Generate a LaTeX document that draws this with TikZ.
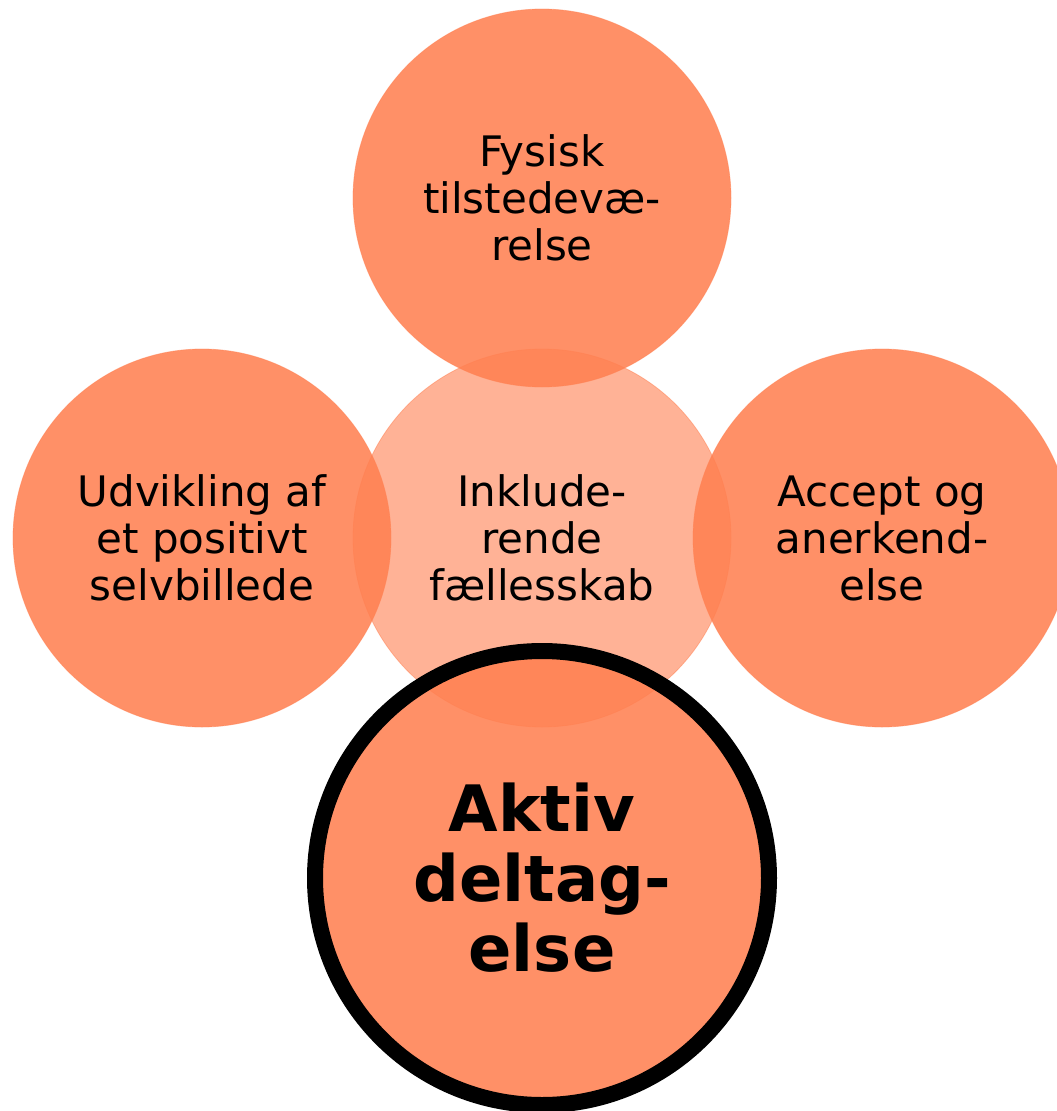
\documentclass[tikz,border=0pt]{standalone}
\usepackage{fontspec}
\setmainfont{DejaVu Sans}
\definecolor{orbase}{RGB}{255,127,80}
\tikzset{
  petal/.style={circle, inner sep=0pt, minimum size=378pt, fill=orbase, fill opacity=0.87,
    draw=orbase, draw opacity=0.5, line width=0.8pt, text opacity=1, align=center,
    font=\fontsize{42}{47}\selectfont},
  hub/.style={petal, fill opacity=0.6},
  focus/.style={circle, inner sep=0pt, minimum size=454pt, fill=orbase, fill opacity=0.87,
    draw=black, draw opacity=1, line width=16pt, text opacity=1, align=center,
    font=\fontsize{64}{70}\selectfont\bfseries}
}
\begin{document}
\begin{tikzpicture}[x=1pt,y=-1pt]
\useasboundingbox (0,0) rectangle (1057,1111);
\clip (0,0) rectangle (1057,1111);
\node[petal] (top) at (542,198) {Fysisk\\tilstedevæ-\\relse};
\node[petal] (left) at (202,538) {Udvikling af\\et positivt\\selvbillede};
\node[petal] (right) at (882,538) {Accept og\\anerkend-\\else};
\node[hub] (center) at (542,538) {Inklude-\\rende\\fællesskab};
\node[focus] (bottom) at (542,878) {Aktiv\\deltag-\\else};
\end{tikzpicture}
\end{document}
